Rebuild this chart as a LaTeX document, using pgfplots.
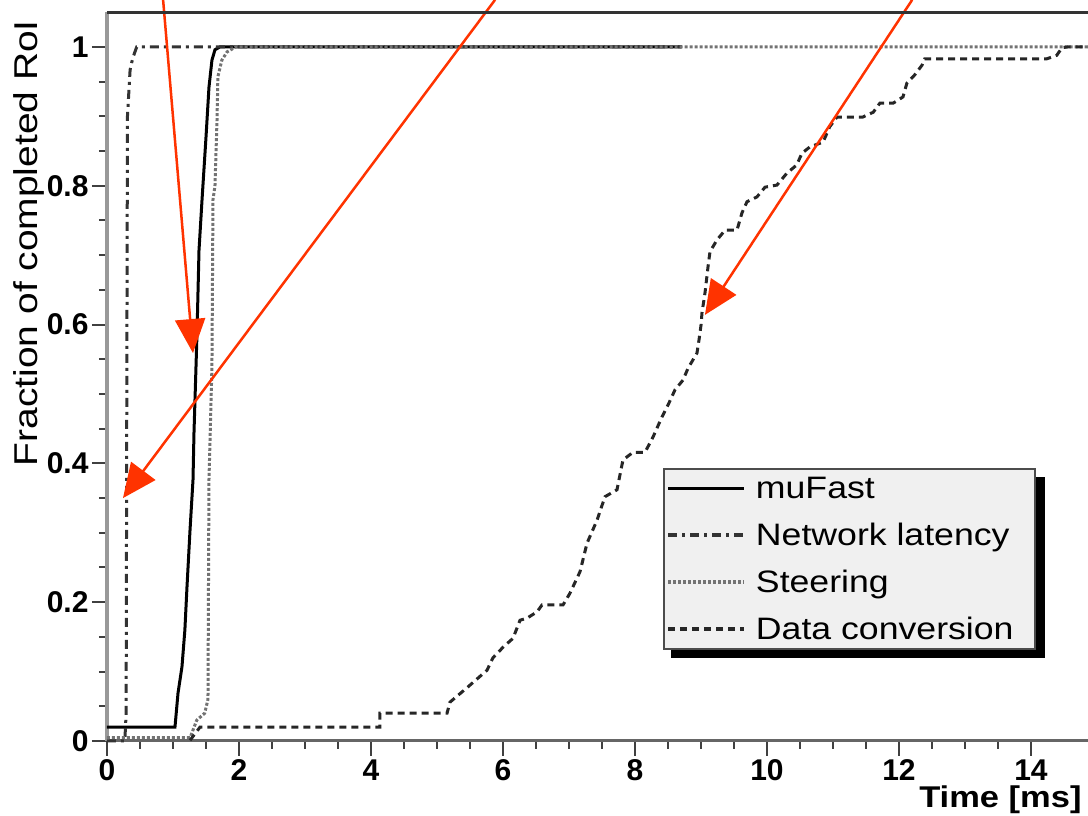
\documentclass[border=0pt]{standalone}
\usepackage{fontspec}
\setmainfont{Liberation Sans}
\newfontfamily\lab{Liberation Sans}[FakeStretch=1.15]
\newfontfamily\laby{Liberation Sans}[FakeStretch=1.18]
\usepackage{pgfplots}
\pgfplotsset{compat=1.18}
\usetikzlibrary{arrows.meta}
\definecolor{arrowred}{RGB}{255,51,0}
\begin{document}
\begin{tikzpicture}
\begin{axis}[
  scale only axis=true,
  width=990pt, height=728.7pt,
  xmin=0, xmax=15, ymin=0, ymax=1.05,
  axis x line*=bottom, axis y line*=left,
  x axis line style={black!60, line width=3pt},
  y axis line style={black!40, line width=4pt},
  xtick={0,2,...,14}, ytick={0,0.2,0.4,0.6,0.8,1},
  minor x tick num=3, minor y tick num=3,
  tick align=outside,
  major tick length=15pt, minor tick length=8pt,
  every tick/.style={black!75, line width=2pt},
  ticklabel style={font=\fontsize{30}{34}\selectfont\bfseries},
  /pgf/number format/assume math mode=true,
  clip=false,
  xlabel={Time [ms]},
  xlabel style={font=\lab\fontsize{30}{34}\selectfont\bfseries, at={(axis description cs:0.988,-0.081)}, anchor=east},
  ylabel={Fraction of completed RoI},
  ylabel style={font=\laby\fontsize{33}{38}\selectfont, at={(axis description cs:-0.079,0.994)}, anchor=east},
  legend cell align=left,
  legend image code/.code={\draw[#1, line width=3.5pt] (0pt,0pt) -- (76pt,0pt); \path (84pt,0pt);},
  legend style={at={(axis cs:8.42,0.393)}, anchor=north west,
    fill=black!6, draw=black!70, line width=2pt,
    font=\lab\fontsize{31}{36}\selectfont,
    inner xsep=3pt, inner ysep=6pt, row sep=19pt},
]
% legend shadow
\fill[black] (axis cs:8.54,0.381) rectangle (axis cs:14.21,0.1196);
% muFast
\addplot[black, line width=3pt] coordinates {
(0,0.02) (1.03,0.02) (1.076,0.069) (1.136,0.107) (1.18,0.16) (1.212,0.222)
(1.258,0.304) (1.303,0.376) (1.318,0.444) (1.364,0.588) (1.394,0.707)
(1.44,0.78) (1.5,0.87) (1.545,0.942) (1.59,0.981) (1.636,0.996) (1.71,1.0) (8.71,1.0)};
\addlegendentry{muFast}
% Network latency
\addplot[black!80, line width=3pt, dash pattern=on 9pt off 5pt on 3pt off 5pt] coordinates {
(0,0) (0.27,0) (0.29,0.04) (0.30,0.5) (0.31,0.9) (0.35,0.967) (0.39,0.984) (0.45,1.0) (8.7,1.0)};
\addlegendentry{Network latency}
% Steering
\addplot[black!55, line width=3pt, dash pattern=on 3pt off 2pt] coordinates {
(0,0.005) (1.26,0.005) (1.36,0.03) (1.48,0.04) (1.53,0.06) (1.545,0.376) (1.59,0.539)
(1.606,0.78) (1.636,0.8) (1.667,0.895) (1.68,0.957) (1.74,0.981) (1.82,0.993) (1.95,1.0) (15,1.0)};
\addlegendentry{Steering}
% Data conversion
\addplot[black!85, line width=3pt, dash pattern=on 7pt off 5pt] coordinates {
(1.258,0.001) (1.409,0.020) (4.136,0.020) (4.136,0.040) (5.152,0.040) (5.197,0.056)
(5.47,0.078) (5.758,0.102) (5.848,0.120) (6.0,0.135) (6.152,0.148) (6.258,0.174)
(6.364,0.177) (6.515,0.186) (6.591,0.196) (6.909,0.196) (7.015,0.213) (7.167,0.244)
(7.273,0.285) (7.424,0.318) (7.545,0.352) (7.727,0.362) (7.818,0.405) (7.97,0.416)
(8.152,0.416) (8.273,0.438) (8.409,0.467) (8.5,0.484) (8.606,0.506) (8.727,0.520)
(8.803,0.537) (8.939,0.559) (8.97,0.578) (9.0,0.599) (9.015,0.617) (9.061,0.646)
(9.106,0.683) (9.136,0.705) (9.242,0.722) (9.364,0.736) (9.545,0.736) (9.621,0.761)
(9.697,0.777) (9.848,0.784) (9.97,0.798) (10.15,0.801) (10.30,0.818) (10.45,0.830)
(10.53,0.847) (10.65,0.856) (10.85,0.863) (10.95,0.885) (11.06,0.899) (11.45,0.899)
(11.61,0.906) (11.71,0.919) (11.91,0.919) (12.06,0.928) (12.12,0.948) (12.24,0.960)
(12.35,0.974) (12.39,0.983) (14.24,0.983) (14.39,0.988) (14.47,0.999) (14.55,1.0) (15,1.0)};
\addlegendentry{\makebox[274pt][l]{Data conversion}}
% red annotation arrows
\addplot[arrowred, line width=2.5pt, -{Triangle[length=34pt,width=30pt]}, forget plot] coordinates {(0.85,1.068) (1.303,0.559)};
\addplot[arrowred, line width=2.5pt, -{Triangle[length=34pt,width=30pt]}, forget plot] coordinates {(5.88,1.068) (0.242,0.350)};
\addplot[arrowred, line width=2.5pt, -{Triangle[length=34pt,width=30pt]}, forget plot] coordinates {(12.2,1.068) (9.06,0.614)};
\end{axis}
\draw[black!80, line width=2.5pt] (0,728.7pt) -- (990pt,728.7pt);
\pgfresetboundingbox
\path[use as bounding box] (-107pt,-75pt) rectangle (981pt,741pt);
\end{tikzpicture}
\end{document}
